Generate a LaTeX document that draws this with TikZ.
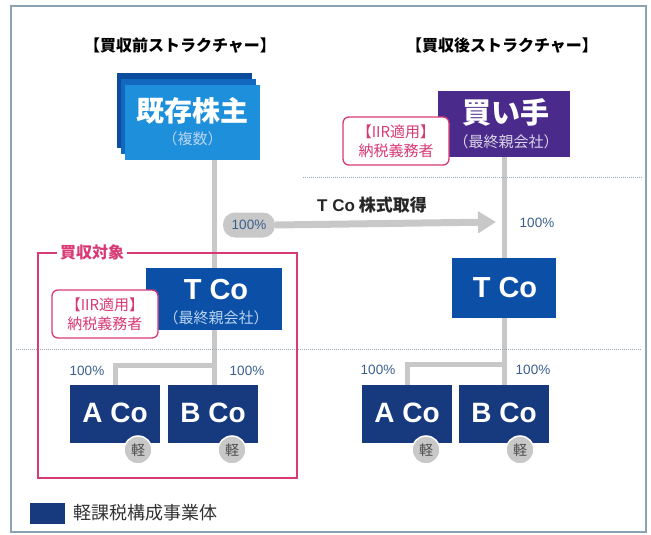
\documentclass[tikz,border=0pt]{standalone}
\usepackage{fontspec}
\setmainfont{Noto Sans CJK JP}
\newfontfamily\lat{Liberation Sans}
\usetikzlibrary{arrows.meta}
\definecolor{shblue}{HTML}{1E8FDA}
\definecolor{shblueb}{HTML}{1268BE}
\definecolor{shbluec}{HTML}{0B4C9C}
\definecolor{buyer}{HTML}{4A2A8A}
\definecolor{tco}{HTML}{0B50A6}
\definecolor{subco}{HTML}{173A7E}
\definecolor{conn}{HTML}{C8C8C8}
\definecolor{pinkc}{HTML}{D83A76}
\definecolor{pct}{HTML}{3A5E8C}
\definecolor{framec}{HTML}{8CA2B2}
\definecolor{dotc}{HTML}{9AA6B0}
\definecolor{lightsub}{HTML}{B8D4F0}
\pgfdeclarelayer{bg}
\pgfsetlayers{bg,main}
\tikzset{
  box/.style={rectangle, inner sep=0pt, draw=none},
  connline/.style={draw=conn, line width=5pt},
  pctlabel/.style={text=pct, font=\lat\fontsize{13.5}{15}\selectfont},
  iir/.style={rectangle, rounded corners=6pt, draw=pinkc, line width=1.3pt, fill=white, text=pinkc, align=center, font=\fontsize{15}{19}\selectfont, minimum width=106pt, minimum height=48pt, inner sep=1pt},
  kei/.style={circle, fill=conn, draw=white, line width=1.5pt, minimum size=28pt, inner sep=0pt, text=black!70, font=\fontsize{14}{14}\selectfont},
  bigname/.style={text=white, font=\lat\bfseries\fontsize{28}{30}\selectfont},
  subname/.style={text=lightsub, font=\fontsize{15}{17}\selectfont},
  title/.style={font=\bfseries\fontsize{16}{18}\selectfont},
  dotline/.style={draw=dotc, line width=0.9pt, dash pattern=on 1pt off 1pt}
}
\begin{document}
\begin{tikzpicture}[x=1pt,y=-1pt]
\useasboundingbox (0,0) rectangle (651,535);
% outer frame
\draw[framec, line width=1.2pt] (11,6) rectangle (646,532);
% titles
\node[title] (tL) at (180,46) {【買収前ストラクチャー】};
\node[title] (tR) at (502,46) {【買収後ストラクチャー】};
% dotted lines
\draw[dotline] (303,177) -- (642,177);
\draw[dotline] (16,349) -- (642,349);
% existing shareholders stack
\fill[shbluec] (117,73) rectangle (252,148);
\fill[shblueb] (121,79) rectangle (256,154);
\node[box, fill=shblue, minimum width=135pt, minimum height=75pt] (ks) at (192.5,122.5) {};
\node[text=white, font=\bfseries\fontsize{28}{30}\selectfont] (ksT) at (192.5,111) {既存株主};
\node[subname] (ksS) at (192.5,139) {（複数）};
% buyer
\node[box, fill=buyer, minimum width=132pt, minimum height=66pt] (buy) at (504,124) {};
\node[text=white, font=\bfseries\fontsize{29}{30}\selectfont] (buyT) at (506,112) {買い手};
\node[subname, text=white!80!buyer] (buyS) at (506,142) {（最終親会社）};
\node[iir] (iirR) at (396,141) {【IIR適用】\\納税義務者};
% acquisition target frame
\draw[pinkc, line width=2.5pt] (38,253) rectangle (297,478);
\node[fill=white, text=pinkc, font=\bfseries\fontsize{16}{18}\selectfont, inner sep=3pt] (tgt) at (92,252) {買収対象};
% T Co left
\node[box, fill=tco, minimum width=136pt, minimum height=62pt] (tcoL) at (214,299) {};
\node[bigname, font=\lat\bfseries\fontsize{29}{30}\selectfont] (tcoLT) at (216,290) {T Co};
\node[subname] (tcoLS) at (216,318) {（最終親会社）};
\node[iir] (iirL) at (105,314) {【IIR適用】\\納税義務者};
% T Co right
\node[box, fill=tco, minimum width=104pt, minimum height=60pt] (tcoR) at (504,288) {};
\node[bigname, font=\lat\bfseries\fontsize{29}{30}\selectfont] (tcoRT) at (505,288) {T Co};
% pill and arrow
\node[rectangle, rounded corners=12pt, fill=conn, minimum width=52pt, minimum height=25pt, inner sep=0pt, pctlabel] (pill) at (249,225) {100\%};
\coordinate (arrEnd) at (496,222);
\node[font=\bfseries\fontsize{17}{19}\selectfont, text=black!85] (acq) at (372,205) {{\lat T Co} 株式取得};
\node[pctlabel] (pR) at (537,223) {100\%};
% subsidiaries left
\node[box, fill=subco, minimum width=90pt, minimum height=58pt] (aL) at (115,414) {};
\node[bigname] (aLT) at (115,413) {A Co};
\node[box, fill=subco, minimum width=90pt, minimum height=58pt] (bL) at (213,414) {};
\node[bigname] (bLT) at (213,413) {B Co};
\node[kei] (kaL) at (138,450) {軽};
\node[kei] (kbL) at (232,450) {軽};
\node[pctlabel] (paL) at (87,371) {100\%};
\node[pctlabel] (pbL) at (247,371) {100\%};
% subsidiaries right
\node[box, fill=subco, minimum width=90pt, minimum height=58pt] (aR) at (407,414) {};
\node[bigname] (aRT) at (407,413) {A Co};
\node[box, fill=subco, minimum width=90pt, minimum height=58pt] (bR) at (504,414) {};
\node[bigname] (bRT) at (504,413) {B Co};
\node[kei] (kaR) at (426,450) {軽};
\node[kei] (kbR) at (520,450) {軽};
\node[pctlabel] (paR) at (378,370) {100\%};
\node[pctlabel] (pbR) at (533,370) {100\%};
% legend
\node[box, fill=subco, minimum width=35pt, minimum height=21pt] (leg) at (47.5,513) {};
\node[anchor=west, text=black!80, font=\fontsize{18}{20}\selectfont] (legT) at (70,513) {軽課税構成事業体};
% connectors
\coordinate (jL) at (214,365);
\coordinate (jR) at (504,364);
\begin{pgfonlayer}{bg}
\draw[connline] (tcoL.north |- ks.south) -- (tcoL.north);
\draw[connline] (tcoL.south) -- (bL.north -| tcoL.south);
\draw[connline] (jL) -| (aL.north);
\draw[connline] (buy.south) -- (tcoR.north);
\draw[connline] (tcoR.south) -- (bR.north);
\draw[connline] (jR) -| (aR.north);
\end{pgfonlayer}
\draw[draw=conn, line width=7pt, -{Triangle[length=18pt,width=21pt]}] (pill.east) -- (arrEnd);
\end{tikzpicture}
\end{document}
